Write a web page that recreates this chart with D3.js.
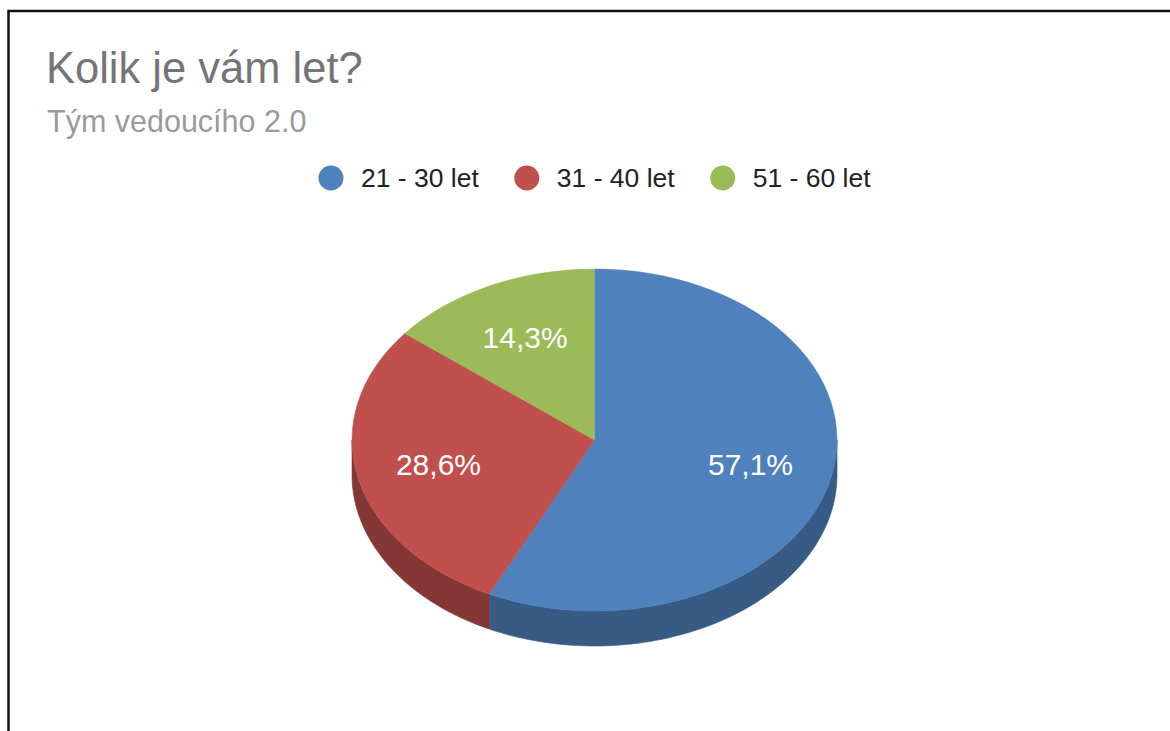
<!DOCTYPE html>
<html>
<head>
<meta charset="utf-8">
<script src="https://cdn.jsdelivr.net/npm/d3@7"></script>
<style>
  html, body { margin: 0; padding: 0; background: #fff; overflow: hidden; }
  svg { display: block; font-family: "Liberation Sans", Arial, sans-serif; }
</style>
</head>
<body>
<svg id="chart" width="1170" height="731"></svg>
<script>
// Age groups of the team and their head counts
const categories = ["21 - 30 let", "31 - 40 let", "51 - 60 let"];
const counts = [4, 2, 1];
const topColors = ["#4f81bd", "#c0504d", "#9bbb59"];
const sideColors = ["#385b85", "#853735", "#6d8a3c"];
const titleText = "Kolik je vám let?";
const subtitleText = "Tým vedoucího 2.0";

const svg = d3.select("#chart");
const W = 1170, H = 731;

// frame around the chart
svg.append("rect")
  .attr("x", 8.5).attr("y", 11)
  .attr("width", W + 20).attr("height", H + 20)
  .attr("fill", "none").attr("stroke", "#111").attr("stroke-width", 2.5);

svg.append("text")
  .attr("x", 46).attr("y", 83)
  .attr("font-size", 43.5).attr("fill", "#757575")
  .text(titleText);

svg.append("text")
  .attr("x", 47).attr("y", 132)
  .attr("font-size", 30.5).attr("fill", "#9a9a9a")
  .text(subtitleText);

// pie geometry (ellipse seen in perspective with a thickness)
const cx = 594.5, cy = 440, rx = 242.5, ry = 171, depth = 35;
const color = d3.scaleOrdinal().domain(categories).range(topColors);
const sideColor = d3.scaleOrdinal().domain(categories).range(sideColors);

const pie = d3.pie().sort(null).value(d => d.v);
const arcs = pie(categories.map((c, i) => ({ c, v: counts[i] })));
const total = d3.sum(counts);

const pt = (a, dy = 0) => [cx + rx * Math.sin(a), cy - ry * Math.cos(a) + dy];
const line = d3.line();

// visible side walls: only the front half (angles between PI/2 and 3PI/2)
const sides = svg.append("g");
arcs.forEach(a => {
  const a0 = Math.max(a.startAngle, Math.PI / 2);
  const a1 = Math.min(a.endAngle, 3 * Math.PI / 2);
  if (a1 <= a0) return;
  const n = 80;
  const topEdge = d3.range(n + 1).map(i => pt(a0 + (a1 - a0) * i / n));
  const bottomEdge = topEdge.map(p => [p[0], p[1] + depth]).reverse();
  sides.append("path")
    .attr("d", line(topEdge.concat(bottomEdge)) + "Z")
    .attr("fill", sideColor(a.data.c))
    .attr("stroke", sideColor(a.data.c)).attr("stroke-width", 0.6);
});

// top face: circular arcs squashed vertically into the ellipse
const arcGen = d3.arc().innerRadius(0).outerRadius(rx);
const topFace = svg.append("g")
  .attr("transform", `translate(${cx},${cy}) scale(1,${ry / rx})`);
topFace.selectAll("path").data(arcs).join("path")
  .attr("d", arcGen)
  .attr("fill", d => color(d.data.c))
  .attr("stroke", d => color(d.data.c)).attr("stroke-width", 0.6);

// percentage labels
const fmt = v => (Math.round(v / total * 1000) / 10).toFixed(1).replace(".", ",") + "%";
const mid = d => (d.startAngle + d.endAngle) / 2;
svg.append("g").selectAll("text").data(arcs).join("text")
  .attr("x", d => cx + 0.66 * rx * Math.sin(mid(d)))
  .attr("y", d => cy - 0.66 * ry * Math.cos(mid(d)) + 10)
  .attr("text-anchor", "middle")
  .attr("font-size", 30).attr("fill", "#fff")
  .text(d => fmt(d.data.v));

// legend, centred over the pie
const legend = svg.append("g");
const items = categories.map((c, i) => {
  const g = legend.append("g");
  g.append("circle").attr("r", 12.5).attr("cx", 12.5).attr("cy", 0).attr("fill", color(c));
  const t = g.append("text").attr("x", 42.5).attr("y", 9)
    .attr("font-size", 26.5).attr("fill", "#222").text(c);
  return { g, w: 42.5 + t.node().getComputedTextLength() };
});
const gap = 35.5;
const totalW = d3.sum(items, d => d.w) + gap * (items.length - 1);
let x0 = cx - totalW / 2;
items.forEach(it => {
  it.g.attr("transform", `translate(${x0},178)`);
  x0 += it.w + gap;
});
</script>
</body>
</html>
